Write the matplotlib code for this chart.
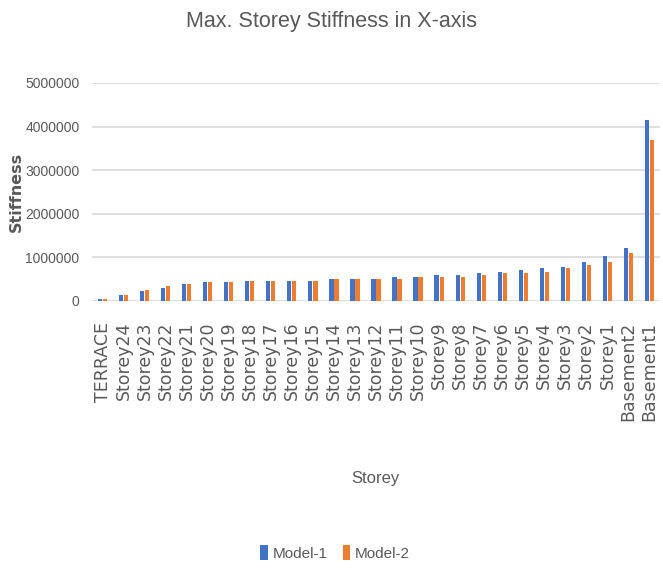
import matplotlib
matplotlib.use('Agg')
import matplotlib.pyplot as plt
import numpy as np

storeys = ['TERRACE', 'Storey24', 'Storey23', 'Storey22', 'Storey21', 'Storey20',
           'Storey19', 'Storey18', 'Storey17', 'Storey16', 'Storey15', 'Storey14',
           'Storey13', 'Storey12', 'Storey11', 'Storey10', 'Storey9', 'Storey8',
           'Storey7', 'Storey6', 'Storey5', 'Storey4', 'Storey3', 'Storey2',
           'Storey1', 'Basement2', 'Basement1']

model1 = [50000, 140000, 225000, 305000, 385000, 430000, 430000, 470000, 470000,
          470000, 470000, 505000, 505000, 505000, 545000, 545000, 590000, 590000,
          635000, 675000, 705000, 755000, 790000, 900000, 1030000, 1225000, 4150000]
model2 = [50000, 135000, 260000, 340000, 385000, 430000, 430000, 470000, 470000,
          470000, 470000, 505000, 505000, 505000, 505000, 545000, 545000, 545000,
          590000, 635000, 635000, 670000, 750000, 820000, 905000, 1110000, 3700000]

yticks = [0, 1000000, 2000000, 3000000, 4000000, 5000000]

BLUE = '#4472C4'
ORANGE = '#ED7D31'
GRAY = '#595959'
SANS = 'Liberation Sans'

fig = plt.figure(figsize=(6.63, 5.68), dpi=100)
ax = fig.add_axes([92 / 663, 1 - 301 / 568, 568 / 663, 218 / 568])

x = np.arange(len(storeys))
w = 0.2
ax.bar(x - 0.12, model1, w, color=BLUE, label='Model-1', zorder=3)
ax.bar(x + 0.12, model2, w, color=ORANGE, label='Model-2', zorder=3)

ax.set_xlim(-0.5, len(storeys) - 0.5)
ax.set_ylim(0, 5000000)
ax.set_yticks(yticks)
ax.set_yticklabels([str(v) for v in yticks], family=SANS, fontsize=10, color=GRAY)
ax.tick_params(axis='y', length=0, pad=9)
ax.set_xticks(x)
ax.set_xticklabels(storeys, rotation=90, fontsize=12.5, color=GRAY, family='DejaVu Sans')
ax.tick_params(axis='x', length=0, pad=15)
ax.grid(axis='y', color='#D9D9D9', linewidth=1.2, zorder=0)
for s in ax.spines.values():
    s.set_visible(False)

fig.text(0.5, 1 - 22 / 568, 'Max. Storey Stiffness in X-axis', ha='center', va='center',
         fontsize=15.5, color=GRAY, family=SANS)
fig.text(16 / 663, 1 - 192 / 568, 'Stiffness', rotation=90, ha='center', va='center',
         fontsize=11.5, fontweight='bold', color=GRAY, family='DejaVu Sans')
fig.text(375 / 663, 1 - 478 / 568, 'Storey', ha='center', va='center',
         fontsize=12, color=GRAY, family=SANS)

fig.legend(loc='center', bbox_to_anchor=(335 / 663, 1 - 553 / 568), ncol=2, frameon=False,
           handlelength=0.5, handleheight=1.1, handletextpad=0.3, columnspacing=1.0,
           prop={'family': SANS, 'size': 11}, labelcolor=GRAY)

fig.savefig('out.png', dpi=100)
